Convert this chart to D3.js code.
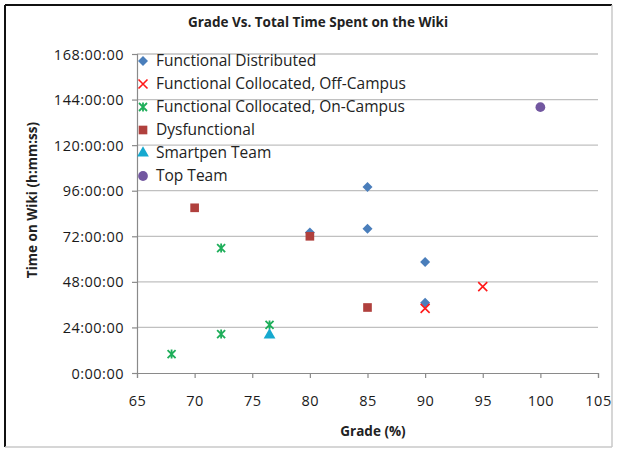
<!DOCTYPE html>
<html>
<head>
<meta charset="utf-8">
<script src="https://cdn.jsdelivr.net/npm/d3@7"></script>
<style>
  body { margin: 0; background: #fff; }
  text { font-family: "Open Sans", Arial, sans-serif; }
</style>
</head>
<body>
<svg id="chart"></svg>
<script>
var width = 617, height = 452;

// data (grade %, hours on wiki)
var seriesNames = ["Functional Distributed", "Functional Collocated, Off-Campus",
  "Functional Collocated, On-Campus", "Dysfunctional", "Smartpen Team", "Top Team"];
var distGrades = [80, 85, 85, 90, 90];
var distHours = [74, 98, 76, 58.5, 37];
var offGrades = [90, 95];
var offHours = [34, 45.5];
var onGrades = [68, 72.3, 72.3, 76.5];
var onHours = [10, 65.8, 20.5, 25.3];
var dysGrades = [70, 80, 85];
var dysHours = [87, 72, 34.5];
var penGrades = [76.5];
var penHours = [20];
var topGrades = [100];
var topHours = [140];
var xTicks = [65, 70, 75, 80, 85, 90, 95, 100, 105];
var yTicks = [0, 24, 48, 72, 96, 120, 144, 168];

var series = [
  {name: seriesNames[0], g: distGrades, h: distHours, shape: "diamond", color: "#4A7EBB"},
  {name: seriesNames[1], g: offGrades, h: offHours, shape: "x", color: "#FF1A1A"},
  {name: seriesNames[2], g: onGrades, h: onHours, shape: "star", color: "#1EAE5A"},
  {name: seriesNames[3], g: dysGrades, h: dysHours, shape: "square", color: "#B0403D"},
  {name: seriesNames[4], g: penGrades, h: penHours, shape: "triangle", color: "#16A9CF"},
  {name: seriesNames[5], g: topGrades, h: topHours, shape: "circle", color: "#7257A0"}
];

var svg = d3.select("#chart").attr("width", width).attr("height", height);

// frame
svg.append("rect").attr("x", 0).attr("y", 0).attr("width", width).attr("height", height).attr("fill", "#fff");
svg.append("line").attr("x1", 5).attr("x2", 612).attr("y1", 5).attr("y2", 5).attr("stroke", "#111").attr("stroke-width", 2);
svg.append("line").attr("x1", 5).attr("x2", 5).attr("y1", 5).attr("y2", 447).attr("stroke", "#111").attr("stroke-width", 2);
svg.append("line").attr("x1", 5).attr("x2", 612).attr("y1", 447).attr("y2", 447).attr("stroke", "#c8c8c8").attr("stroke-width", 1.5);
svg.append("line").attr("x1", 612).attr("x2", 612).attr("y1", 5).attr("y2", 447).attr("stroke", "#c8c8c8").attr("stroke-width", 1.5);

var x = d3.scaleLinear().domain([65, 105]).range([137, 598]);
var y = d3.scaleLinear().domain([0, 168]).range([373, 54]);

// gridlines
svg.append("g").selectAll("line")
  .data(yTicks.slice(1))
  .enter().append("line")
  .attr("x1", x(65)).attr("x2", x(105))
  .attr("y1", function(d) { return y(d); }).attr("y2", function(d) { return y(d); })
  .attr("stroke", "#c0c0c0").attr("stroke-width", 1.3);

// axes
var yAxis = svg.append("g").attr("transform", "translate(" + x(65) + ",0)")
  .call(d3.axisLeft(y).tickValues(yTicks).tickSize(5).tickPadding(8)
    .tickFormat(function(d) { return d + ":00:00"; }));
var xAxis = svg.append("g").attr("transform", "translate(0," + y(0) + ")")
  .call(d3.axisBottom(x).tickValues(xTicks).tickSize(5).tickPadding(18));

[xAxis, yAxis].forEach(function(a) {
  a.select(".domain").attr("stroke", "#8a8a8a").attr("stroke-width", 1.2);
  a.selectAll(".tick line").attr("stroke", "#8a8a8a").attr("stroke-width", 1.2);
  a.selectAll(".tick text").attr("fill", "#1a1a1a").style("font-size", "14.5px")
    .style("font-family", "'Open Sans', Arial, sans-serif").attr("letter-spacing", "0.5px");
});
yAxis.selectAll(".tick text").attr("dy", "0.35em");

// titles
svg.append("text").attr("x", 318).attr("y", 27).attr("text-anchor", "middle")
  .style("font-size", "13.5px").style("font-weight", "bold").attr("fill", "#222")
  .text("Grade Vs. Total Time Spent on the Wiki");
svg.append("text").attr("x", 373).attr("y", 436).attr("text-anchor", "middle")
  .style("font-size", "13.5px").style("font-weight", "bold").attr("fill", "#222")
  .text("Grade (%)");
svg.append("text").attr("transform", "translate(37,200) rotate(-90)").attr("text-anchor", "middle")
  .style("font-size", "13.5px").style("font-weight", "bold").attr("fill", "#222")
  .text("Time on Wiki (h:mm:ss)");

// marker drawing
function drawMarker(g, shape, color) {
  if (shape == "x") {
    g.append("path").attr("d", "M-4.5,-4.5L4.5,4.5M-4.5,4.5L4.5,-4.5")
      .attr("stroke", color).attr("stroke-width", 1.6).attr("fill", "none");
  } else if (shape == "star") {
    g.append("path").attr("d", "M-4,-4L4,4M-4,4L4,-4M0,-4.5L0,4.5")
      .attr("stroke", color).attr("stroke-width", 1.8).attr("fill", "none");
  } else if (shape == "diamond") {
    g.append("path").attr("d", "M0,-5L5,0L0,5L-5,0Z").attr("fill", color);
  } else {
    var types = {square: d3.symbolSquare, triangle: d3.symbolTriangle, circle: d3.symbolCircle};
    var sizes = {square: 75, triangle: 60, circle: 75};
    g.append("path").attr("d", d3.symbol().type(types[shape]).size(sizes[shape])())
      .attr("fill", color);
  }
}

// points
series.forEach(function(s) {
  var pts = s.g.map(function(g, i) { return {g: g, h: s.h[i]}; });
  svg.append("g").selectAll("g")
    .data(pts)
    .enter().append("g")
    .attr("transform", function(d) { return "translate(" + x(d.g) + "," + y(d.h) + ")"; })
    .each(function() { drawMarker(d3.select(this), s.shape, s.color); });
});

// legend
var legend = svg.append("g").selectAll("g")
  .data(series)
  .enter().append("g")
  .attr("transform", function(d, i) { return "translate(143," + (61 + i * 23) + ")"; });
legend.each(function(d) { drawMarker(d3.select(this), d.shape, d.color); });
legend.append("text").attr("x", 13).attr("dy", "0.35em")
  .style("font-size", "15.5px").attr("fill", "#222")
  .text(function(d) { return d.name; });
</script>
</body>
</html>
